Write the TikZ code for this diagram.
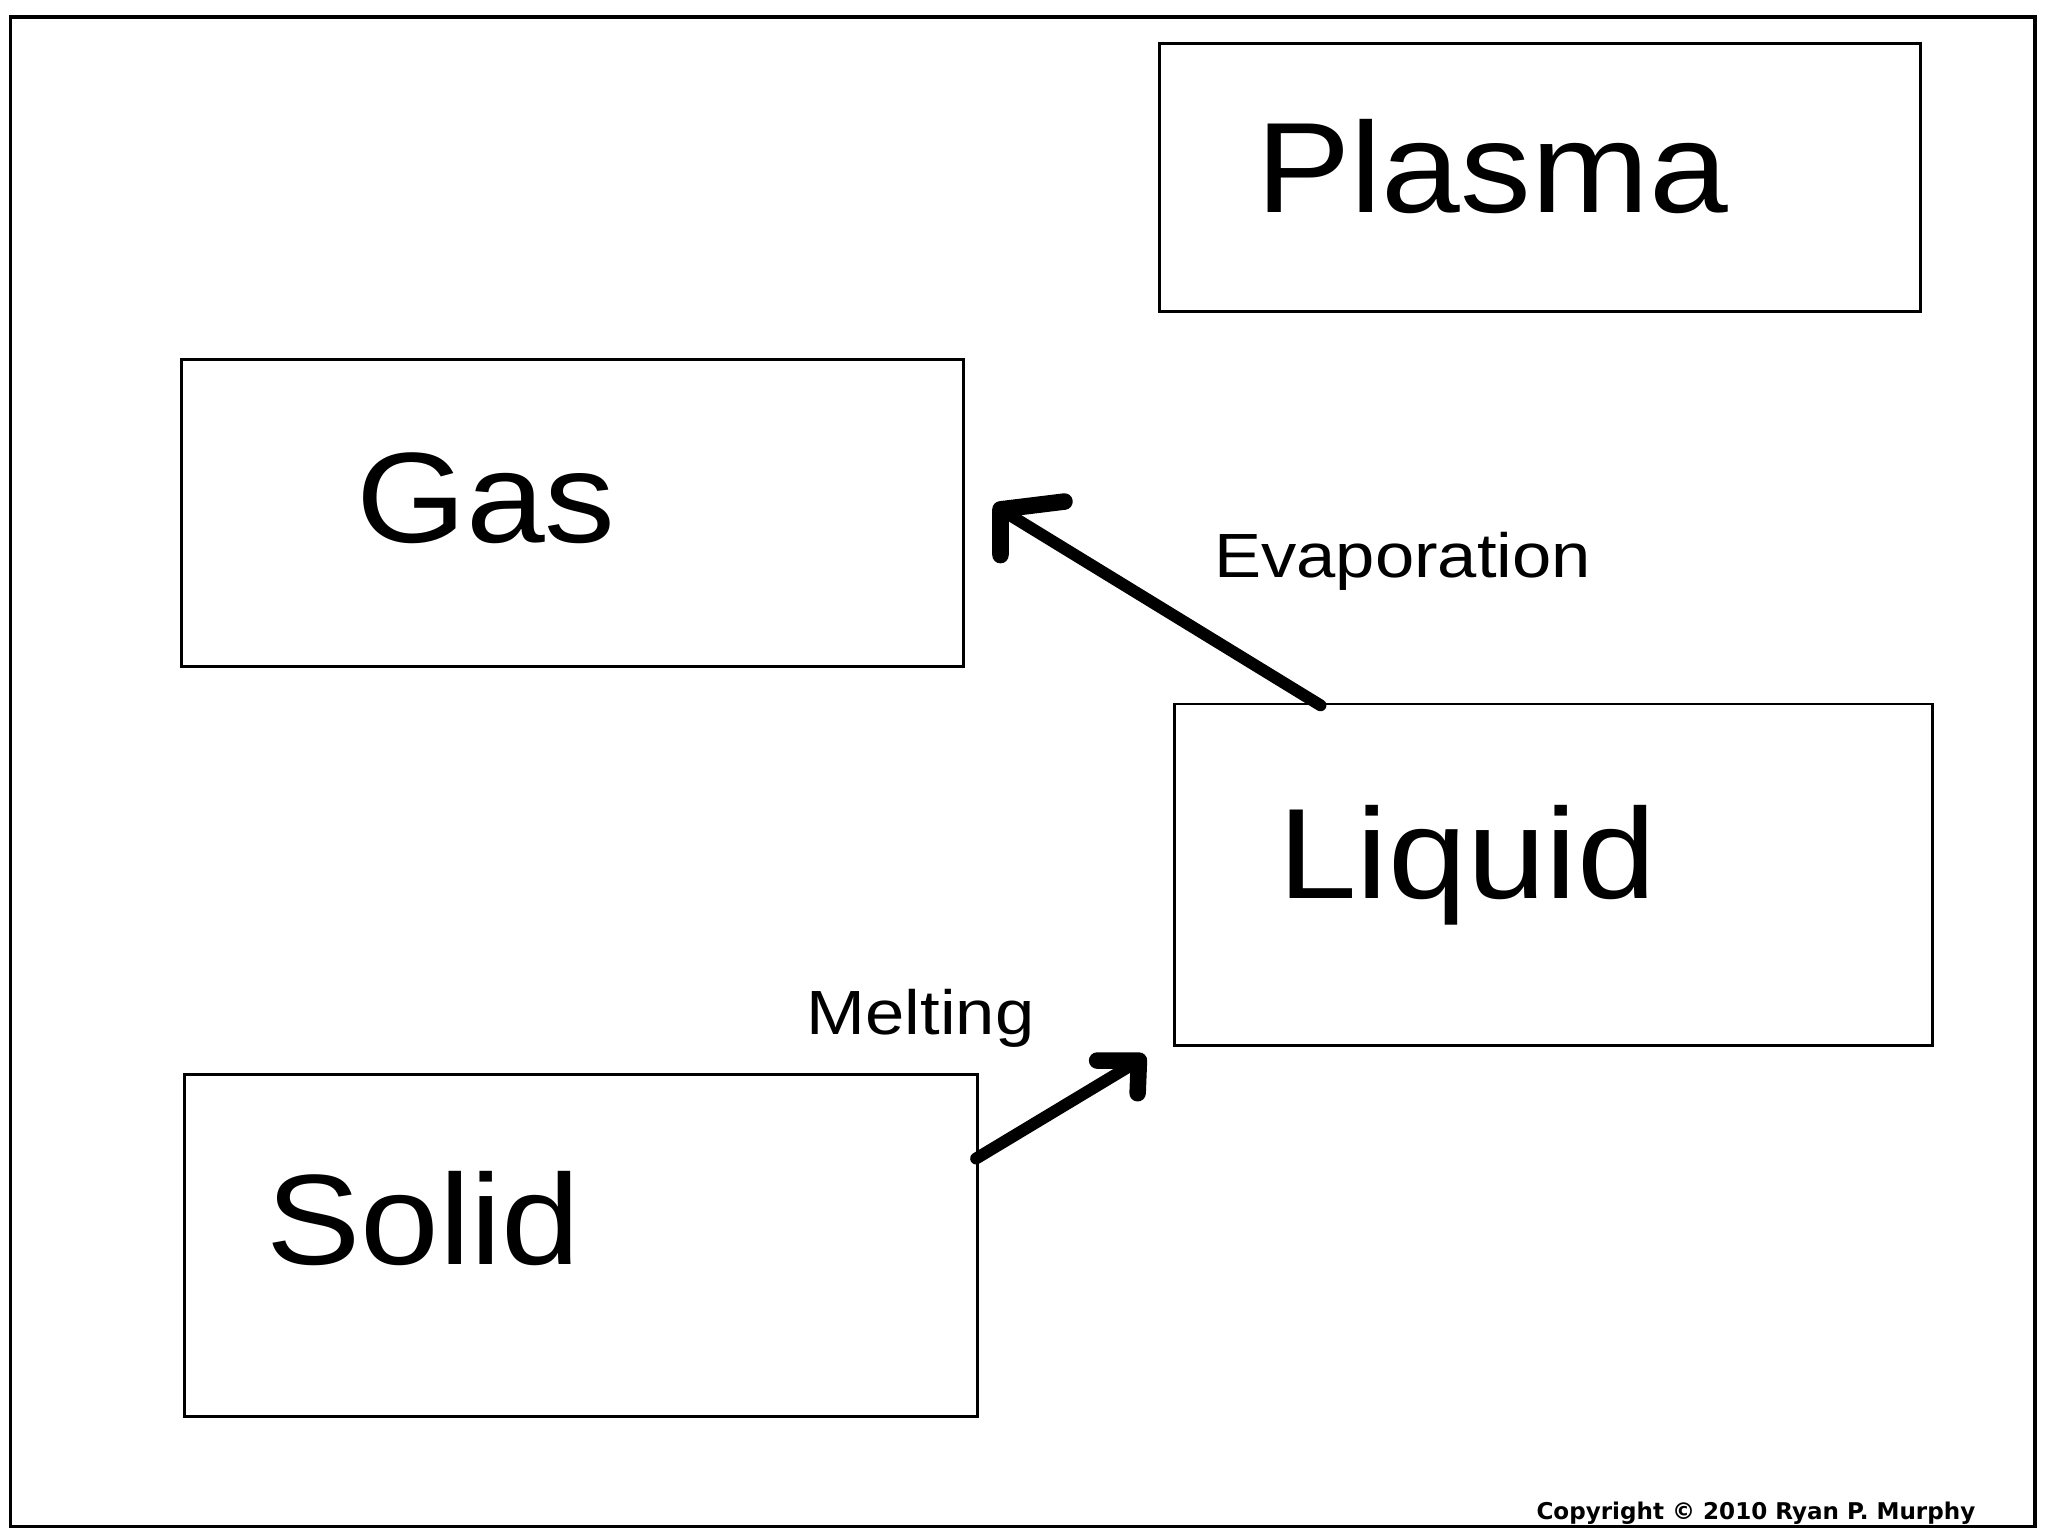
\documentclass[tikz,border=0pt]{standalone}
\usepackage{fontspec}
\setmainfont{Liberation Sans}
\newfontfamily\copyfont{DejaVu Sans}
\usetikzlibrary{calc}
\newcommand\widenbig[1]{\scalebox{1.1}[1]{#1}}
\newcommand\widensmall[1]{\scalebox{1.13}[1]{#1}}
\begin{document}
\begin{tikzpicture}[x=0.01cm,y=-0.01cm,
  box/.style={draw, line width=0.65pt, rectangle, inner sep=0pt, outer sep=0pt},
  bigtext/.style={anchor=base west, inner sep=0pt, font=\fontsize{28}{30}\selectfont},
  smalltext/.style={anchor=base west, inner sep=0pt, font=\fontsize{13.6}{16}\selectfont},
  shaft/.style={line width=2.6pt, line cap=round},
  barb/.style={line width=3.6pt, line cap=round, line join=round}]
\useasboundingbox (0,0) rectangle (1568,1176);
\fill[white] (0,0) rectangle (1568,1176);
% outer frame
\node[box, line width=0.75pt, minimum width=15.49cm, minimum height=11.55cm, anchor=north west] (frame) at (8,13) {};
% boxes
\node[box, minimum width=5.82cm, minimum height=2.05cm, anchor=north west] (plasma) at (888,33) {};
\node[box, minimum width=5.98cm, minimum height=2.35cm, anchor=north west] (gas) at (139,275) {};
\node[box, minimum width=5.80cm, minimum height=2.61cm, anchor=north west] (liquid) at (899,539) {};
\node[box, minimum width=6.07cm, minimum height=2.61cm, anchor=north west] (solid) at (141,823) {};
% labels
\node[bigtext] (plasmalbl) at (961,163) {\widenbig{Plasma}};
\node[bigtext] (gaslbl) at (272,415) {\widenbig{Gas}};
\node[bigtext] (liquidlbl) at (978,688) {\widenbig{Liquid}};
\node[bigtext] (solidlbl) at (203,968) {\widenbig{Solid}};
\node[smalltext] (evaplbl) at (929,442) {\widensmall{Evaporation}};
\node[smalltext] (meltlbl) at (617,792) {\widensmall{Melting}};
\node[anchor=base east, inner sep=0pt, font=\copyfont\bfseries\fontsize{5.02}{6}\selectfont] (copy) at (1513,1163) {Copyright © 2010 Ryan P. Murphy};
% evaporation arrow
\coordinate (evtail) at ($(liquid.north west)+(112,1)$);
\coordinate (evtip) at (766,390);
\draw[shaft] (evtail) -- (evtip);
\draw[barb] (815,384) -- (evtip) -- (766,425);
% melting arrow
\coordinate (mtail) at ($(solid.north east)+(-1,64)$);
\coordinate (mtip) at (872,812);
\draw[shaft] (mtail) -- (mtip);
\draw[barb] (840,812) -- (mtip) -- (871,837);
\end{tikzpicture}
\end{document}
